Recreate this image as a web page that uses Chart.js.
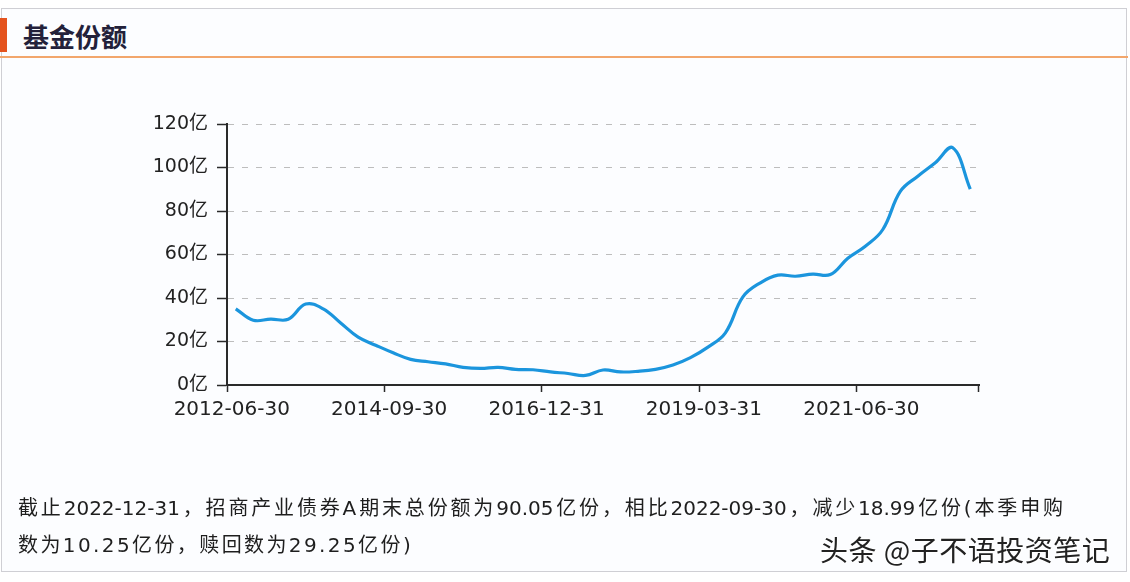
<!DOCTYPE html>
<html>
<head>
<meta charset="utf-8">
<script src="https://cdn.jsdelivr.net/npm/chart.js@4/dist/chart.umd.min.js"></script>
<style>
  html, body { margin:0; padding:0; background:#ffffff; }
  body { width:1130px; height:582px; position:relative; overflow:hidden;
         font-family:"DejaVu Sans","Noto Sans CJK SC",sans-serif; color:#222; }
  #frame { position:absolute; left:1px; top:8px; width:1126px; height:564px;
           border:1px solid #cfcfd4; box-sizing:border-box; background:#fcfdff; }
  #bar { position:absolute; left:0; top:18px; width:7px; height:34px; background:#e4531e; }
  #title { position:absolute; left:23px; top:21px; font-size:26px; font-weight:bold;
           font-family:"Noto Sans CJK SC",sans-serif; color:#23213a; line-height:30px; }
  #rule { position:absolute; left:0; top:56px; width:1128px; height:2px; background:#f2a66c; }
  #wrap { position:absolute; left:0; top:0; width:1130px; height:582px; }
  .txt { position:absolute; left:18px; font-size:20px; line-height:24px;
         font-family:"DejaVu Sans","Noto Sans CJK SC",sans-serif; color:#1e1e1e; white-space:nowrap; }
  #l1 { top:496px; width:1045px; text-align:justify; text-align-last:justify; white-space:normal; }
  #l2 { top:533px; letter-spacing:2.4px; }
  #wm { position:absolute; left:820px; top:533px; font-size:28px; line-height:32px; letter-spacing:0.5px;
        font-family:"Noto Sans CJK SC",sans-serif; color:#222;
        text-shadow:0 0 2px #fff, 1px 1px 0 #fff, -1px -1px 0 #fff; white-space:nowrap; }
</style>
</head>
<body>
<div id="frame"></div>
<div id="bar"></div>
<div id="title">基金份额</div>
<div id="rule"></div>
<div id="wrap"><canvas id="c" width="1130" height="582"></canvas></div>
<div class="txt" id="l1">截止2022-12-31，招商产业债券A期末总份额为90.05亿份，相比2022-09-30，减少18.99亿份(本季申购</div>
<div class="txt" id="l2">数为10.25亿份，赎回数为29.25亿份)</div>
<div id="wm">头条 @子不语投资笔记</div>
<script>
const quarters = [
  "2012-06-30","2012-09-30","2012-12-31",
  "2013-03-31","2013-06-30","2013-09-30","2013-12-31",
  "2014-03-31","2014-06-30","2014-09-30","2014-12-31",
  "2015-03-31","2015-06-30","2015-09-30","2015-12-31",
  "2016-03-31","2016-06-30","2016-09-30","2016-12-31",
  "2017-03-31","2017-06-30","2017-09-30","2017-12-31",
  "2018-03-31","2018-06-30","2018-09-30","2018-12-31",
  "2019-03-31","2019-06-30","2019-09-30","2019-12-31",
  "2020-03-31","2020-06-30","2020-09-30","2020-12-31",
  "2021-03-31","2021-06-30","2021-09-30","2021-12-31",
  "2022-03-31","2022-06-30","2022-09-30","2022-12-31"
];
// 基金份额（亿份）
const shares = [
  35.0, 29.8, 30.3,
  30.2, 37.2, 35.0, 28.5,
  22.0, 18.3, 14.8, 11.8,
  10.7, 9.7, 8.1, 7.6,
  8.1, 7.2, 7.0, 6.0,
  5.3, 4.4, 6.9, 6.0,
  6.3, 7.2, 9.2, 12.6,
  17.4, 24.0, 40.5, 47.0,
  50.5, 50.0, 51.0, 50.8,
  58.3, 63.8, 71.5, 89.0,
  96.0, 102.2, 109.04, 90.05
];
const yTicks = [0, 20, 40, 60, 80, 100, 120];
const labelEvery = 9;

const axisColor = '#2a2a2a';
new Chart(document.getElementById('c'), {
  type: 'line',
  data: {
    labels: quarters,
    datasets: [{
      data: shares,
      borderColor: '#1b95dd',
      borderWidth: 3.2,
      pointRadius: 0,
      tension: 0.4,
      fill: false
    }]
  },
  options: {
    responsive: false,
    animation: false,
    layout: { padding: { left: 0, top: 124, right: 151, bottom: 157 } },
    plugins: { legend: { display: false }, tooltip: { enabled: false } },
    scales: {
      x: {
        type: 'category',
        offset: true,
        afterFit: s => { s.height = 40; },
        border: { display: true, color: axisColor, width: 2 },
        grid: {
          offset: true,
          drawOnChartArea: false,
          drawTicks: true,
          tickLength: 7,
          tickWidth: 1.5,
          tickColor: ctx => (ctx.type === 'tick' ? (ctx.index % labelEvery === 0 ? axisColor : 'rgba(0,0,0,0)') : axisColor)
        },
        ticks: {
          autoSkip: false,
          maxRotation: 0,
          minRotation: 0,
          padding: 6,
          labelOffset: -4,
          color: '#222',
          font: { family: '"DejaVu Sans","Noto Sans CJK SC",sans-serif', size: 20 },
          callback: function(v, i) { return i % labelEvery === 0 ? quarters[i] : ''; }
        }
      },
      y: {
        min: 0,
        max: 120,
        afterFit: s => { s.width = 227; },
        afterBuildTicks: s => { s.ticks = yTicks.map(v => ({ value: v })); },
        border: { display: true, color: axisColor, width: 2, dash: [6, 8] },
        grid: {
          color: '#bdbdbd',
          lineWidth: 1,
          drawTicks: true,
          tickLength: 10,
          tickWidth: 1.5,
          tickColor: axisColor,
          tickBorderDash: []
        },
        ticks: {
          padding: 9,
          color: '#222',
          font: { family: '"DejaVu Sans","Noto Sans CJK SC",sans-serif', size: 19 },
          callback: v => v + '亿'
        }
      }
    }
  }
});
</script>
</body>
</html>
